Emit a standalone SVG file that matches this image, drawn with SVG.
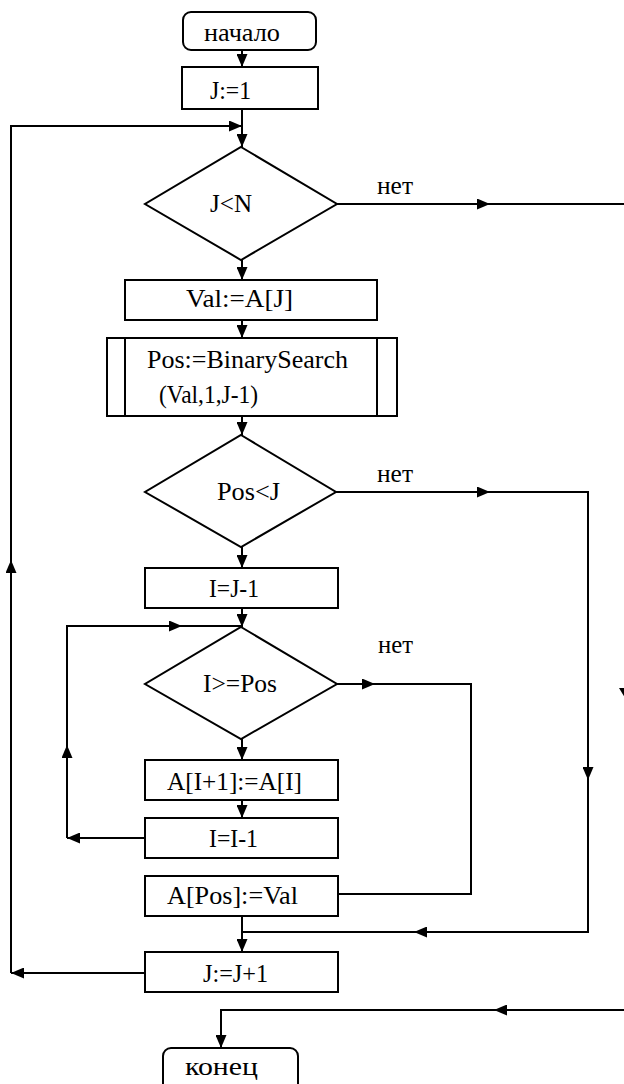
<svg xmlns="http://www.w3.org/2000/svg" width="624" height="1084" viewBox="0 0 624 1084">
<style>
.b{fill:#fff;stroke:#000;stroke-width:2}
.t{font-family:"Liberation Serif","Times New Roman",serif;font-size:26px;fill:#000}
.c{fill:none;stroke:#000;stroke-width:2}
</style>
<defs>
<marker id="a" markerUnits="userSpaceOnUse" markerWidth="13" markerHeight="11" refX="13" refY="5.5" orient="auto">
<path d="M0,0 L13,5.5 L0,11 z" fill="#000"/>
</marker>
</defs>
<rect width="624" height="1084" fill="#fff"/>
<g id="connectors">
<line class="c" x1="242" y1="50" x2="242" y2="67" marker-end="url(#a)"/>
<line class="c" x1="242" y1="109" x2="242" y2="147" marker-end="url(#a)"/>
<line class="c" x1="145" y1="973" x2="11" y2="973" marker-end="url(#a)"/>
<line class="c" x1="11" y1="973" x2="11" y2="560" marker-end="url(#a)"/>
<polyline class="c" points="11,560 11,126 242,126" marker-end="url(#a)"/>
<line class="c" x1="336" y1="204" x2="490" y2="204" marker-end="url(#a)"/>
<line class="c" x1="490" y1="204" x2="624" y2="204"/>
<polygon points="619,688 631,688 625,698" fill="#000"/>
<line class="c" x1="624" y1="1010" x2="494" y2="1010" marker-end="url(#a)"/>
<polyline class="c" points="494,1010 221,1010 221,1048" marker-end="url(#a)"/>
<line class="c" x1="242" y1="259" x2="242" y2="280" marker-end="url(#a)"/>
<line class="c" x1="242" y1="320" x2="242" y2="338" marker-end="url(#a)"/>
<line class="c" x1="242" y1="416" x2="242" y2="435" marker-end="url(#a)"/>
<line class="c" x1="336" y1="492" x2="490" y2="492" marker-end="url(#a)"/>
<polyline class="c" points="490,492 588,492 588,780" marker-end="url(#a)"/>
<polyline class="c" points="588,780 588,932 414,932" marker-end="url(#a)"/>
<line class="c" x1="414" y1="932" x2="242" y2="932"/>
<line class="c" x1="242" y1="547" x2="242" y2="568" marker-end="url(#a)"/>
<line class="c" x1="242" y1="608" x2="242" y2="627" marker-end="url(#a)"/>
<line class="c" x1="145" y1="838" x2="67" y2="838" marker-end="url(#a)"/>
<line class="c" x1="67" y1="838" x2="67" y2="745" marker-end="url(#a)"/>
<polyline class="c" points="67,745 67,626 182,626" marker-end="url(#a)"/>
<line class="c" x1="182" y1="626" x2="242" y2="626"/>
<line class="c" x1="337" y1="684" x2="375" y2="684" marker-end="url(#a)"/>
<polyline class="c" points="375,684 471,684 471,894 338,894"/>
<line class="c" x1="242" y1="739" x2="242" y2="760" marker-end="url(#a)"/>
<line class="c" x1="242" y1="800" x2="242" y2="818" marker-end="url(#a)"/>
<line class="c" x1="242" y1="916" x2="242" y2="952" marker-end="url(#a)"/>
<text class="t" x="377" y="194" textLength="36" lengthAdjust="spacingAndGlyphs">нет</text>
<text class="t" x="377" y="482" textLength="36" lengthAdjust="spacingAndGlyphs">нет</text>
<text class="t" x="378" y="653" textLength="35" lengthAdjust="spacingAndGlyphs">нет</text>
</g>
<g id="start">
<rect class="b" x="183" y="12" width="133" height="38" rx="8"/>
<text class="t" x="204" y="41" textLength="76" lengthAdjust="spacingAndGlyphs">начало</text>
</g>
<g id="init">
<rect class="b" x="182" y="67" width="136" height="42"/>
<text class="t" x="210" y="99" textLength="41" lengthAdjust="spacingAndGlyphs">J:=1</text>
</g>
<g id="cond1">
<polygon class="b" points="241,147 337,204 241,260 145,204"/>
<text class="t" x="210" y="212" textLength="42" lengthAdjust="spacingAndGlyphs">J&lt;N</text>
</g>
<g id="val">
<rect class="b" x="125" y="280" width="252" height="40"/>
<text class="t" x="186" y="307" textLength="107" lengthAdjust="spacingAndGlyphs">Val:=A[J]</text>
</g>
<g id="search">
<rect class="b" x="107" y="338" width="290" height="78"/>
<line class="c" x1="125" y1="338" x2="125" y2="416"/>
<line class="c" x1="377" y1="338" x2="377" y2="416"/>
<text class="t" x="147" y="368" textLength="201" lengthAdjust="spacingAndGlyphs">Pos:=BinarySearch</text>
<text class="t" x="159" y="403" textLength="99" lengthAdjust="spacingAndGlyphs">(Val,1,J-1)</text>
</g>
<g id="cond2">
<polygon class="b" points="241,435 336,492 241,547 145,492"/>
<text class="t" x="217" y="500" textLength="63" lengthAdjust="spacingAndGlyphs">Pos&lt;J</text>
</g>
<g id="initI">
<rect class="b" x="145" y="568" width="193" height="40"/>
<text class="t" x="209" y="597" textLength="50" lengthAdjust="spacingAndGlyphs">I=J-1</text>
</g>
<g id="cond3">
<polygon class="b" points="241,627 337,684 241,739 145,684"/>
<text class="t" x="203" y="692" textLength="74" lengthAdjust="spacingAndGlyphs">I&gt;=Pos</text>
</g>
<g id="shift">
<rect class="b" x="145" y="760" width="193" height="40"/>
<text class="t" x="167" y="790" textLength="135" lengthAdjust="spacingAndGlyphs">A[I+1]:=A[I]</text>
</g>
<g id="decI">
<rect class="b" x="145" y="818" width="193" height="40"/>
<text class="t" x="209" y="847" textLength="49" lengthAdjust="spacingAndGlyphs">I=I-1</text>
</g>
<g id="insert">
<rect class="b" x="145" y="876" width="193" height="40"/>
<text class="t" x="167" y="904" textLength="131" lengthAdjust="spacingAndGlyphs">A[Pos]:=Val</text>
</g>
<g id="incJ">
<rect class="b" x="145" y="952" width="193" height="40"/>
<text class="t" x="203" y="982" textLength="65" lengthAdjust="spacingAndGlyphs">J:=J+1</text>
</g>
<g id="end">
<rect class="b" x="163" y="1048" width="135" height="50" rx="8"/>
<text class="t" x="185" y="1075" textLength="73" lengthAdjust="spacingAndGlyphs">конец</text>
</g>
</svg>
